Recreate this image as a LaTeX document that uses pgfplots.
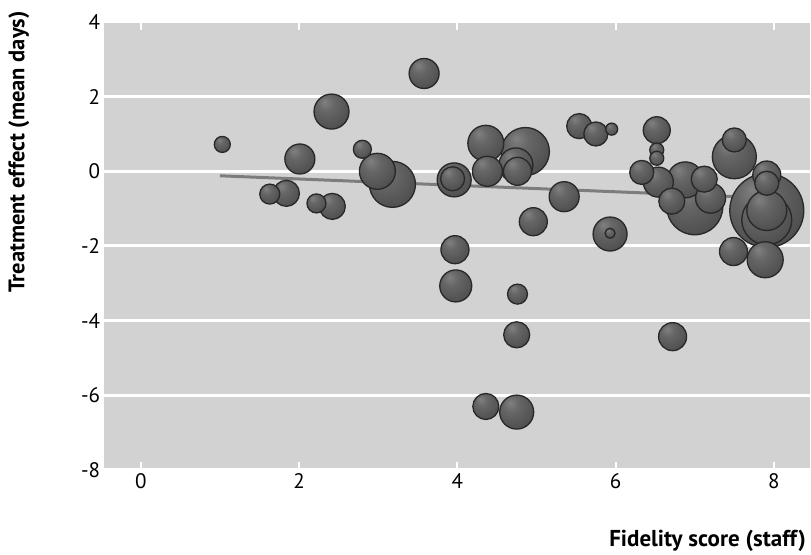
\documentclass[border=0pt]{standalone}
\usepackage{pgfplots}
\pgfplotsset{compat=1.18}
\usepackage{pgfplotstable}
\usepackage{fontspec}
\setmainfont{PT Sans}

\definecolor{bggray}{RGB}{210,210,210}
\definecolor{sphhi}{RGB}{128,128,128}
\definecolor{sphmid}{RGB}{102,102,102}
\definecolor{sphbody}{RGB}{82,82,82}
\definecolor{sphedge}{RGB}{56,56,56}
\definecolor{sphline}{RGB}{40,40,40}
\definecolor{fitgray}{RGB}{125,125,125}

\pgfdeclareradialshading{sph}{\pgfpoint{-10bp}{14bp}}{%
  color(0bp)=(sphhi); color(12bp)=(sphmid); color(30bp)=(sphbody);
  color(52bp)=(sphedge); color(70bp)=(sphedge)}

\pgfdeclareplotmark{sph}{%
  \pgfpathcircle{\pgfpointorigin}{\pgfplotmarksize}%
  \pgfshadepath{sph}{0}%
  \pgfusepath{discard}%
  \pgfpathcircle{\pgfpointorigin}{\pgfplotmarksize}%
  \pgfusepath{stroke}%
}

% sites: fidelity score, treatment effect, bubble radius (pt)
\pgfplotstableread{
x     y      r
7.91  -1.05  37
7.00  -0.95  28
7.91  -1.30  25
4.86   0.53  24
3.18  -0.35  23
7.50   0.39  22
7.91  -1.05  20
4.36   0.75  18
6.88  -0.23  18
7.89  -2.37  18
2.99   0.00  18
2.41   1.60  17.5
4.74   0.17  17
3.96  -0.23  17
4.75  -6.45  17
5.93  -1.68  17
3.98  -3.07  16
3.58   2.62  15
2.01   0.33  15
4.38   0.00  15
5.35  -0.68  15
6.54  -0.29  15
7.20  -0.72  15
7.49  -2.15  14
7.91  -0.10  14
4.76   0.00  14
4.96  -1.35  14
3.97  -2.10  14
6.72  -4.43  14
6.52   1.10  13.5
4.75  -4.38  13
4.36  -6.30  13
1.84  -0.59  13
2.42  -0.94  13
7.12  -0.21  13
6.71  -0.80  13
5.54   1.21  12.5
3.94  -0.20  12
5.75   1.00  12
6.33  -0.03  12
7.50   0.84  12
7.91  -0.32  12
4.76  -3.29  10
1.63  -0.61  10
2.22  -0.86  9.5
2.80   0.59  9
1.03   0.72  8
6.52   0.57  7
6.52   0.35  7
5.95   1.13  6
5.93  -1.66  5
}\sites

\begin{document}
\begin{tikzpicture}
\begin{axis}[
  width=706pt, height=448pt, scale only axis,
  xmin=-0.47, xmax=8.45, ymin=-8, ymax=4,
  xtick={0,2,...,8}, ytick={-8,-6,...,4},
  axis background/.style={fill=bggray},
  axis line style={draw=none},
  tick align=inside, major tick length=8pt,
  xtick style={white, line width=2pt},
  ytick style={draw=none},
  ymajorgrids, major grid style={white, line width=3pt},
  tick label style={font=\fontsize{21}{25}\selectfont},
  /pgf/number format/assume math mode=true,
  xlabel={Fidelity score (staff)},
  ylabel={Treatment effect (mean days)},
  xlabel style={at={(axis description cs:1,-0.158)}, anchor=east,
    font=\fontsize{23}{26}\selectfont\bfseries},
  ylabel style={at={(axis description cs:-0.12,0.71)}, anchor=center,
    font=\fontsize{22.5}{26}\selectfont\bfseries},
]
\addplot[
  only marks, scatter, mark=sph,
  point meta=\thisrow{r},
  scatter/use mapped color={draw=sphline, fill=sphbody},
  mark options={line width=1.3pt},
  visualization depends on={\thisrow{r} \as \rr},
  scatter/@pre marker code/.append style={/tikz/mark size=\rr pt},
] table[x=x, y=y] {\sites};
\addplot[no marks, color=fitgray, line width=3pt] coordinates {(1.0,-0.12) (8.0,-0.72)};
\coordinate (bl) at (rel axis cs:0,0);
\end{axis}
\path (bl) ++(-103.6pt,-82pt) rectangle ++(811pt,552pt);
\end{tikzpicture}
\end{document}
